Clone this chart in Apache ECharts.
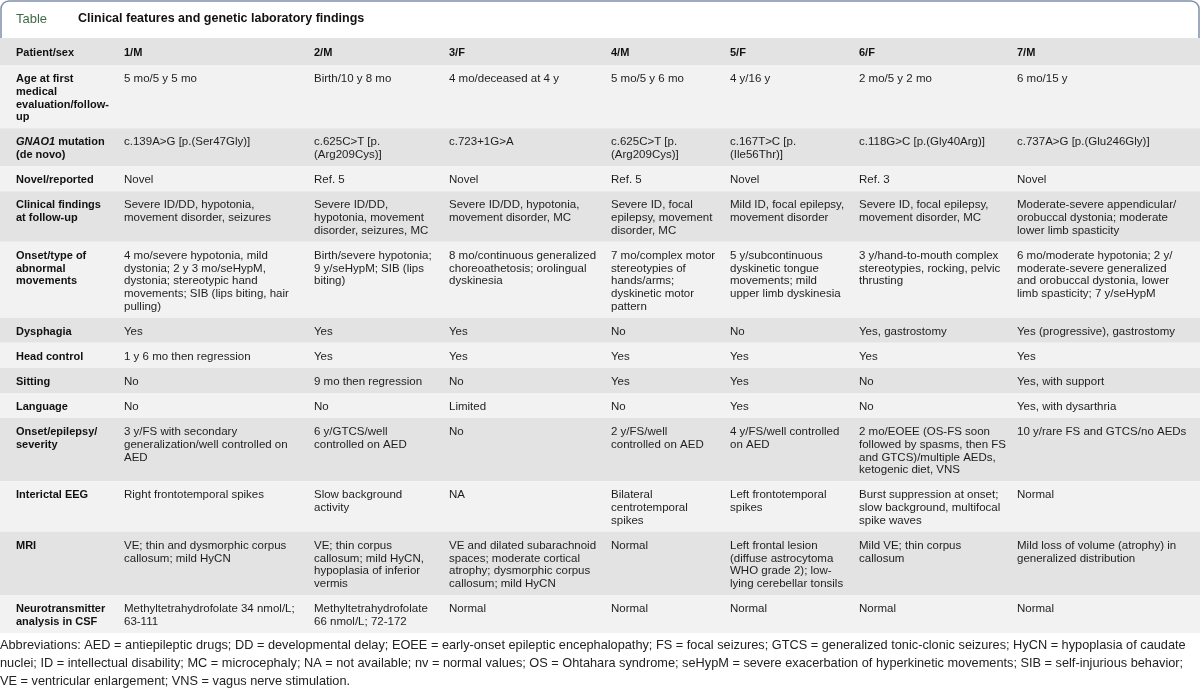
<!DOCTYPE html>
<html>
<head>
<meta charset="utf-8">
<script src="https://cdn.jsdelivr.net/npm/echarts@6/dist/echarts.min.js"></script>
<style>
html,body{margin:0;padding:0;background:#fff;}
#chart{width:1200px;height:691px;}
</style>
</head>
<body>
<div id="chart"></div>
<script>
// ---------------- data ----------------
const tableLabel = 'Table';
const tableTitle = 'Clinical features and genetic laboratory findings';

const rowLabels = [
  'Patient/sex',
  'Age at first\nmedical\nevaluation/follow-\nup',
  '{i|GNAO1}{b| mutation}\n{b|(de novo)}',
  'Novel/reported',
  'Clinical findings\nat follow-up',
  'Onset/type of\nabnormal\nmovements',
  'Dysphagia',
  'Head control',
  'Sitting',
  'Language',
  'Onset/epilepsy/\nseverity',
  'Interictal EEG',
  'MRI',
  'Neurotransmitter\nanalysis in CSF'
];

const patientSex = ['1/M', '2/M', '3/F', '4/M', '5/F', '6/F', '7/M'];
const ageFollowUp = ['5 mo/5 y 5 mo', 'Birth/10 y 8 mo', '4 mo/deceased at 4 y', '5 mo/5 y 6 mo', '4 y/16 y', '2 mo/5 y 2 mo', '6 mo/15 y'];
const mutation = ['c.139A>G [p.(Ser47Gly)]', 'c.625C>T [p.\n(Arg209Cys)]', 'c.723+1G>A', 'c.625C>T [p.\n(Arg209Cys)]', 'c.167T>C [p.\n(Ile56Thr)]', 'c.118G>C [p.(Gly40Arg)]', 'c.737A>G [p.(Glu246Gly)]'];
const novelReported = ['Novel', 'Ref. 5', 'Novel', 'Ref. 5', 'Novel', 'Ref. 3', 'Novel'];
const clinicalFindings = [
  'Severe ID/DD, hypotonia,\nmovement disorder, seizures',
  'Severe ID/DD,\nhypotonia, movement\ndisorder, seizures, MC',
  'Severe ID/DD, hypotonia,\nmovement disorder, MC',
  'Severe ID, focal\nepilepsy, movement\ndisorder, MC',
  'Mild ID, focal epilepsy,\nmovement disorder',
  'Severe ID, focal epilepsy,\nmovement disorder, MC',
  'Moderate-severe appendicular/\norobuccal dystonia; moderate\nlower limb spasticity'
];
const onsetMovements = [
  '4 mo/severe hypotonia, mild\ndystonia; 2 y 3 mo/seHypM,\ndystonia; stereotypic hand\nmovements; SIB (lips biting, hair\npulling)',
  'Birth/severe hypotonia;\n9 y/seHypM; SIB (lips\nbiting)',
  '8 mo/continuous generalized\nchoreoathetosis; orolingual\ndyskinesia',
  '7 mo/complex motor\nstereotypies of\nhands/arms;\ndyskinetic motor\npattern',
  '5 y/subcontinuous\ndyskinetic tongue\nmovements; mild\nupper limb dyskinesia',
  '3 y/hand-to-mouth complex\nstereotypies, rocking, pelvic\nthrusting',
  '6 mo/moderate hypotonia; 2 y/\nmoderate-severe generalized\nand orobuccal dystonia, lower\nlimb spasticity; 7 y/seHypM'
];
const dysphagia = ['Yes', 'Yes', 'Yes', 'No', 'No', 'Yes, gastrostomy', 'Yes (progressive), gastrostomy'];
const headControl = ['1 y 6 mo then regression', 'Yes', 'Yes', 'Yes', 'Yes', 'Yes', 'Yes'];
const sitting = ['No', '9 mo then regression', 'No', 'Yes', 'Yes', 'No', 'Yes, with support'];
const language = ['No', 'No', 'Limited', 'No', 'Yes', 'No', 'Yes, with dysarthria'];
const epilepsy = [
  '3 y/FS with secondary\ngeneralization/well controlled on\nAED',
  '6 y/GTCS/well\ncontrolled on AED',
  'No',
  '2 y/FS/well\ncontrolled on AED',
  '4 y/FS/well controlled\non AED',
  '2 mo/EOEE (OS-FS soon\nfollowed by spasms, then FS\nand GTCS)/multiple AEDs,\nketogenic diet, VNS',
  '10 y/rare FS and GTCS/no AEDs'
];
const interictalEEG = ['Right frontotemporal spikes', 'Slow background\nactivity', 'NA', 'Bilateral\ncentrotemporal\nspikes', 'Left frontotemporal\nspikes', 'Burst suppression at onset;\nslow background, multifocal\nspike waves', 'Normal'];
const mri = [
  'VE; thin and dysmorphic corpus\ncallosum; mild HyCN',
  'VE; thin corpus\ncallosum; mild HyCN,\nhypoplasia of inferior\nvermis',
  'VE and dilated subarachnoid\nspaces; moderate cortical\natrophy; dysmorphic corpus\ncallosum; mild HyCN',
  'Normal',
  'Left frontal lesion\n(diffuse astrocytoma\nWHO grade 2); low-\nlying cerebellar tonsils',
  'Mild VE; thin corpus\ncallosum',
  'Mild loss of volume (atrophy) in\ngeneralized distribution'
];
const csf = ['Methyltetrahydrofolate 34 nmol/L;\n63-111', 'Methyltetrahydrofolate\n66 nmol/L; 72-172', 'Normal', 'Normal', 'Normal', 'Normal', 'Normal'];

const footnote = 'Abbreviations: AED = antiepileptic drugs; DD = developmental delay; EOEE = early-onset epileptic encephalopathy; FS = focal seizures; GTCS = generalized tonic-clonic seizures; HyCN = hypoplasia of caudate\n' +
  'nuclei; ID = intellectual disability; MC = microcephaly; NA = not available; nv = normal values; OS = Ohtahara syndrome; seHypM = severe exacerbation of hyperkinetic movements; SIB = self-injurious behavior;\n' +
  'VE = ventricular enlargement; VNS = vagus nerve stimulation.';

const rowValues = [patientSex, ageFollowUp, mutation, novelReported, clinicalFindings, onsetMovements,
  dysphagia, headControl, sitting, language, epilepsy, interictalEEG, mri, csf];

// ---------------- layout ----------------
const FONT = '"Liberation Sans", Arial, sans-serif';
const COL_X = [16, 124, 314, 449, 611, 730, 859, 1017];
const LINE_H = 12.75;
const ROW_PAD = 12.3;
const HEADER_EXTRA = 2;
const TABLE_TOP = 38;
const WIDTH = 1200;

function nLines(s) { return s.split('\n').length; }

const rowsData = [];
let acc = 0;
rowLabels.forEach((lab, r) => {
  const n = Math.max(nLines(lab), ...rowValues[r].map(nLines));
  const h = ROW_PAD + n * LINE_H + (r === 0 ? HEADER_EXTRA : 0);
  rowsData.push([acc, acc + h, r]);
  acc += h;
});
const total = acc;

const chart = echarts.init(document.getElementById('chart'), null, {renderer: 'canvas'});

const baseText = {fontFamily: FONT, fontSize: 11.5, lineHeight: LINE_H, fill: '#1e1e1e', verticalAlign: 'top', align: 'left'};

chart.setOption({
  animation: false,
  backgroundColor: '#ffffff',
  title: [
    {
      text: '{t|' + tableLabel + '}{s|}{h|' + tableTitle + '}',
      left: 16, top: 10, padding: 0,
      textStyle: {
        rich: {
          t: {color: '#3d6b49', fontSize: 13, fontWeight: 500, fontFamily: FONT},
          s: {width: 31},
          h: {color: '#111', fontSize: 12.5, fontWeight: 'bold', fontFamily: FONT}
        }
      }
    },
    {
      text: footnote,
      left: 0, top: 636, padding: 0,
      textStyle: {color: '#222', fontSize: 12.75, fontWeight: 'normal', fontFamily: FONT, lineHeight: 18}
    }
  ],
  graphic: [
    {
      type: 'rect', z: -10,
      shape: {x: 1, y: 1, width: WIDTH - 2, height: 44, r: [8, 8, 0, 0]},
      style: {fill: '#fff', stroke: '#7f8fa9', lineWidth: 1.5}
    }
  ],
  grid: {left: 0, right: 0, top: TABLE_TOP, height: total},
  xAxis: {type: 'value', min: 0, max: WIDTH, show: false},
  yAxis: {type: 'value', min: 0, max: total, inverse: true, show: false},
  series: [{
    type: 'custom',
    coordinateSystem: 'cartesian2d',
    clip: false,
    silent: true,
    encode: {x: -1, y: [0, 1]},
    data: rowsData,
    renderItem: function (params, api) {
      const r = api.value(2);
      const p0 = api.coord([0, api.value(0)]);
      const p1 = api.coord([WIDTH, api.value(1)]);
      const children = [{
        type: 'rect',
        shape: {x: p0[0], y: p0[1], width: p1[0] - p0[0], height: p1[1] - p0[1]},
        style: {fill: r % 2 === 0 ? '#e3e3e3' : '#f2f2f2'}
      }];
      const ty = p0[1] + 7.6 + (r === 0 ? 1 : 0);
      const label = rowLabels[r];
      children.push({
        type: 'text',
        style: Object.assign({}, baseText, {
          x: api.coord([COL_X[0], 0])[0], y: ty,
          text: label, fontWeight: 'bold', fill: '#111', fontSize: 11,
          rich: {
            i: {fontStyle: 'italic', fontWeight: 'bold', fontSize: 11, fontFamily: FONT, lineHeight: LINE_H, fill: '#111'},
            b: {fontWeight: 'bold', fontSize: 11, fontFamily: FONT, lineHeight: LINE_H, fill: '#111'}
          }
        })
      });
      rowValues[r].forEach((txt, c) => {
        children.push({
          type: 'text',
          style: Object.assign({}, baseText, {
            x: api.coord([COL_X[c + 1], 0])[0], y: ty,
            text: txt,
            fontWeight: r === 0 ? 'bold' : 'normal',
            fontSize: r === 0 ? 11 : 11.5,
            fill: r === 0 ? '#111' : '#1e1e1e'
          })
        });
      });
      return {type: 'group', children: children};
    }
  }]
});
</script>
</body>
</html>
